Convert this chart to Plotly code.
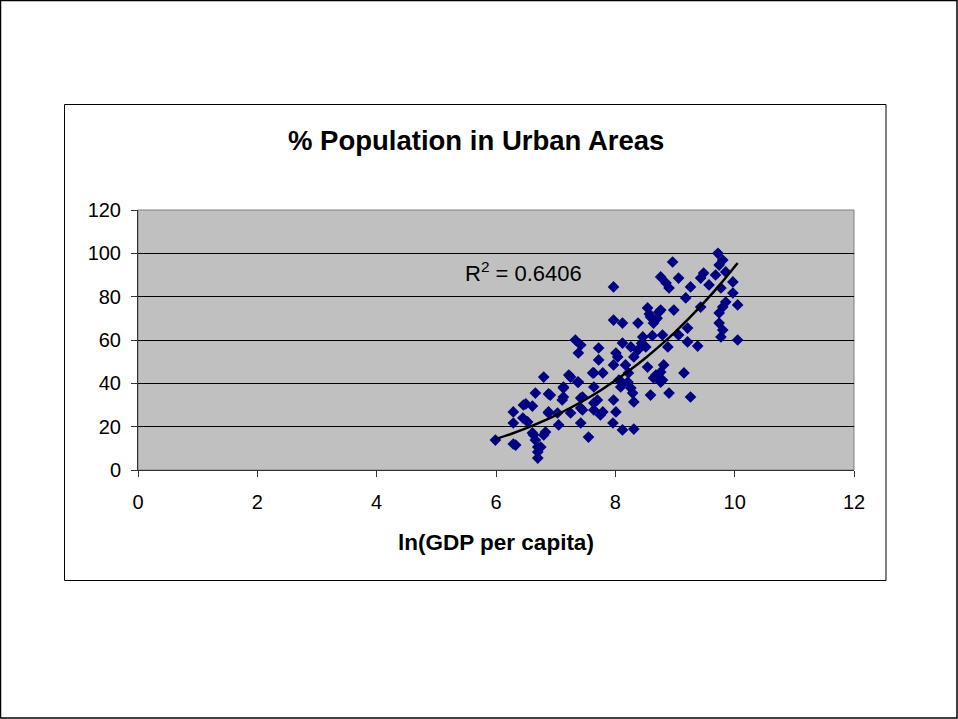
import plotly.graph_objects as go

# ln(GDP per capita) and % population in urban areas
ln_gdp = [5.99, 6.29, 6.29, 6.29, 6.46, 6.45, 6.61, 6.66, 6.80, 6.88,
          6.61, 6.66, 6.70, 6.70, 6.83, 6.70, 6.88, 7.03, 7.05, 7.13,
          7.13, 7.22, 7.25, 7.33, 7.38, 7.42, 7.38, 7.45, 7.42, 7.55,
          7.64, 7.64, 7.70, 7.72, 7.72, 7.79, 7.79, 7.96, 7.97, 7.97,
          7.97, 8.01, 7.97, 9.72, 9.80, 9.74, 8.96, 8.76, 8.85, 8.90,
          9.06, 9.26, 9.43, 9.48, 9.57, 9.68, 9.85, 9.97, 9.97, 9.85,
          10.05, 9.80, 9.74, 9.18, 9.43, 9.74, 9.80, 9.77, 10.05, 8.12,
          8.38, 8.54, 8.59, 8.64, 8.76, 8.98, 8.46, 8.79, 9.06, 9.21,
          9.21, 9.38, 8.88, 8.12, 8.26, 8.38, 8.51, 8.04, 8.31, 8.17,
          8.54, 8.81, 8.22, 8.76, 8.64, 8.76, 9.15, 8.12, 8.26, 8.09,
          8.31, 8.59, 8.90, 9.26, 8.01, 8.12, 8.31, 6.91, 7.13, 7.11,
          7.42, 7.64, 6.88, 7.45, 7.64, 7.42, 7.25, 7.37, 7.62, 6.50,
          6.53, 6.63, 6.33, 6.80, 6.75, 8.73, 9.77, 8.79, 8.29, 8.06,
          8.21, 8.68, 7.75, 8.57, 8.70, 8.44, 8.62]
urban_pct = [13.8, 12.0, 26.8, 21.7, 30.0, 24.0, 29.5, 35.5, 42.9, 35.1,
             17.1, 13.8, 10.6, 5.5, 17.5, 8.3, 26.3, 26.3, 20.8, 38.3,
             33.7, 43.8, 26.3, 60.0, 54.0, 57.7, 40.6, 33.7, 28.6, 15.2,
             44.8, 38.3, 32.3, 56.3, 50.8, 44.8, 26.8, 21.7, 84.5, 69.2,
             48.5, 54.0, 32.3, 100.0, 96.9, 94.6, 96.0, 89.1, 86.3, 84.0,
             88.6, 84.5, 88.6, 90.9, 85.4, 90.0, 91.4, 86.8, 81.7, 77.5,
             76.2, 75.2, 72.5, 79.4, 75.2, 67.8, 64.6, 61.4, 60.0, 67.8,
             67.8, 74.8, 70.6, 67.8, 73.8, 73.8, 61.4, 62.3, 62.3, 65.5,
             59.1, 57.2, 56.8, 58.6, 56.8, 55.4, 56.8, 52.2, 52.2, 48.5,
             47.5, 48.5, 44.8, 45.2, 42.5, 40.6, 44.8, 40.2, 37.8, 38.3,
             31.4, 34.6, 35.5, 33.7, 26.8, 18.5, 18.9, 34.6, 37.8, 32.3,
             33.2, 30.9, 26.8, 27.7, 27.7, 21.7, 42.9, 40.6, 44.8, 30.5,
             22.2, 16.2, 11.5, 16.2, 10.6, 72.9, 84.0, 41.5, 35.5, 41.5,
             40.6, 43.8, 25.4, 72.0, 70.0, 58.5, 62.0]

# Power trendline y = coef * x ^ power, coefficients
trend_coef = 0.0196
trend_power = 3.68
trend_x = [5.99, 6.25, 6.5, 6.75, 7.0, 7.25, 7.5, 7.75, 8.0, 8.25, 8.5,
           8.75, 9.0, 9.25, 9.5, 9.75, 10.05]

title_text = "% Population in Urban Areas"
x_title = "ln(GDP per capita)"
r2_text = "R<sup>2</sup> = 0.6406"
x_ticks = [0, 2, 4, 6, 8, 10, 12]
y_ticks = [0, 20, 40, 60, 80, 100, 120]

FONT = "Liberation Sans, Arial, sans-serif"

trend_y = [trend_coef * x ** trend_power for x in trend_x]

fig = go.Figure()
fig.add_trace(go.Scatter(
    x=ln_gdp, y=urban_pct, mode="markers",
    marker=dict(symbol="diamond", size=9, color="#000080",
                line=dict(width=0)),
    showlegend=False, hoverinfo="skip"))
fig.add_trace(go.Scatter(
    x=trend_x, y=trend_y, mode="lines", line=dict(color="black", width=2.5,
                                                   shape="spline"),
    showlegend=False, hoverinfo="skip"))

W, H = 958, 719
L, R, T, B = 138, 104, 210, 249
pw, ph = W - L - R, H - T - B


def px_x(p):
    return (p - L) / pw


def px_y(p):
    return (H - B - p) / ph


fig.update_layout(
    width=W, height=H,
    margin=dict(l=L, r=R, t=T, b=B, pad=0),
    paper_bgcolor="white", plot_bgcolor="#C0C0C0",
    font=dict(family=FONT, size=20, color="black"),
    xaxis=dict(range=[0, 12], tickvals=x_ticks, showgrid=False,
               zeroline=False, showline=True, linecolor="#333333",
               linewidth=1, ticks="outside", ticklen=6, tickcolor="#333333",
               tickfont=dict(size=20), ticklabelstandoff=8, mirror=False),
    yaxis=dict(range=[0, 120], tickvals=y_ticks, showgrid=True,
               gridcolor="black", gridwidth=1, zeroline=False,
               showline=True, linecolor="#333333", linewidth=1,
               ticks="outside", ticklen=6, tickcolor="#333333",
               tickfont=dict(size=20), ticklabelstandoff=6),
    shapes=[
        dict(type="rect", xref="paper", yref="paper",
             x0=px_x(0.5), x1=px_x(957), y0=px_y(0.5), y1=px_y(718),
             line=dict(color="black", width=1.5), layer="below"),
        dict(type="rect", xref="paper", yref="paper",
             x0=px_x(64.5), x1=px_x(886), y0=px_y(104.5), y1=px_y(580.5),
             line=dict(color="black", width=1), layer="below"),
        dict(type="rect", xref="paper", yref="paper",
             x0=0, x1=1, y0=0, y1=1,
             line=dict(color="#808080", width=1), layer="below"),
    ],
    annotations=[
        dict(text="<b>" + title_text + "</b>", xref="paper", yref="paper",
             x=px_x(476), y=px_y(140), showarrow=False,
             xanchor="center", yanchor="middle",
             font=dict(size=27.5, family=FONT)),
        dict(text="<b>" + x_title + "</b>", xref="paper", yref="paper",
             x=px_x(496), y=px_y(542), showarrow=False,
             xanchor="center", yanchor="middle",
             font=dict(size=22.5, family=FONT)),
        dict(text=r2_text, xref="x", yref="y",
             x=(463 - L) / (pw / 12), y=(H - B - 272) / (ph / 120),
             showarrow=False, xanchor="left", yanchor="middle",
             font=dict(size=22, family=FONT)),
    ],
)

fig.write_html("out.html",
               config={"displayModeBar": False, "staticPlot": True},
               post_script="document.body.style.margin='0';"
                           "document.body.style.overflow='hidden';")
